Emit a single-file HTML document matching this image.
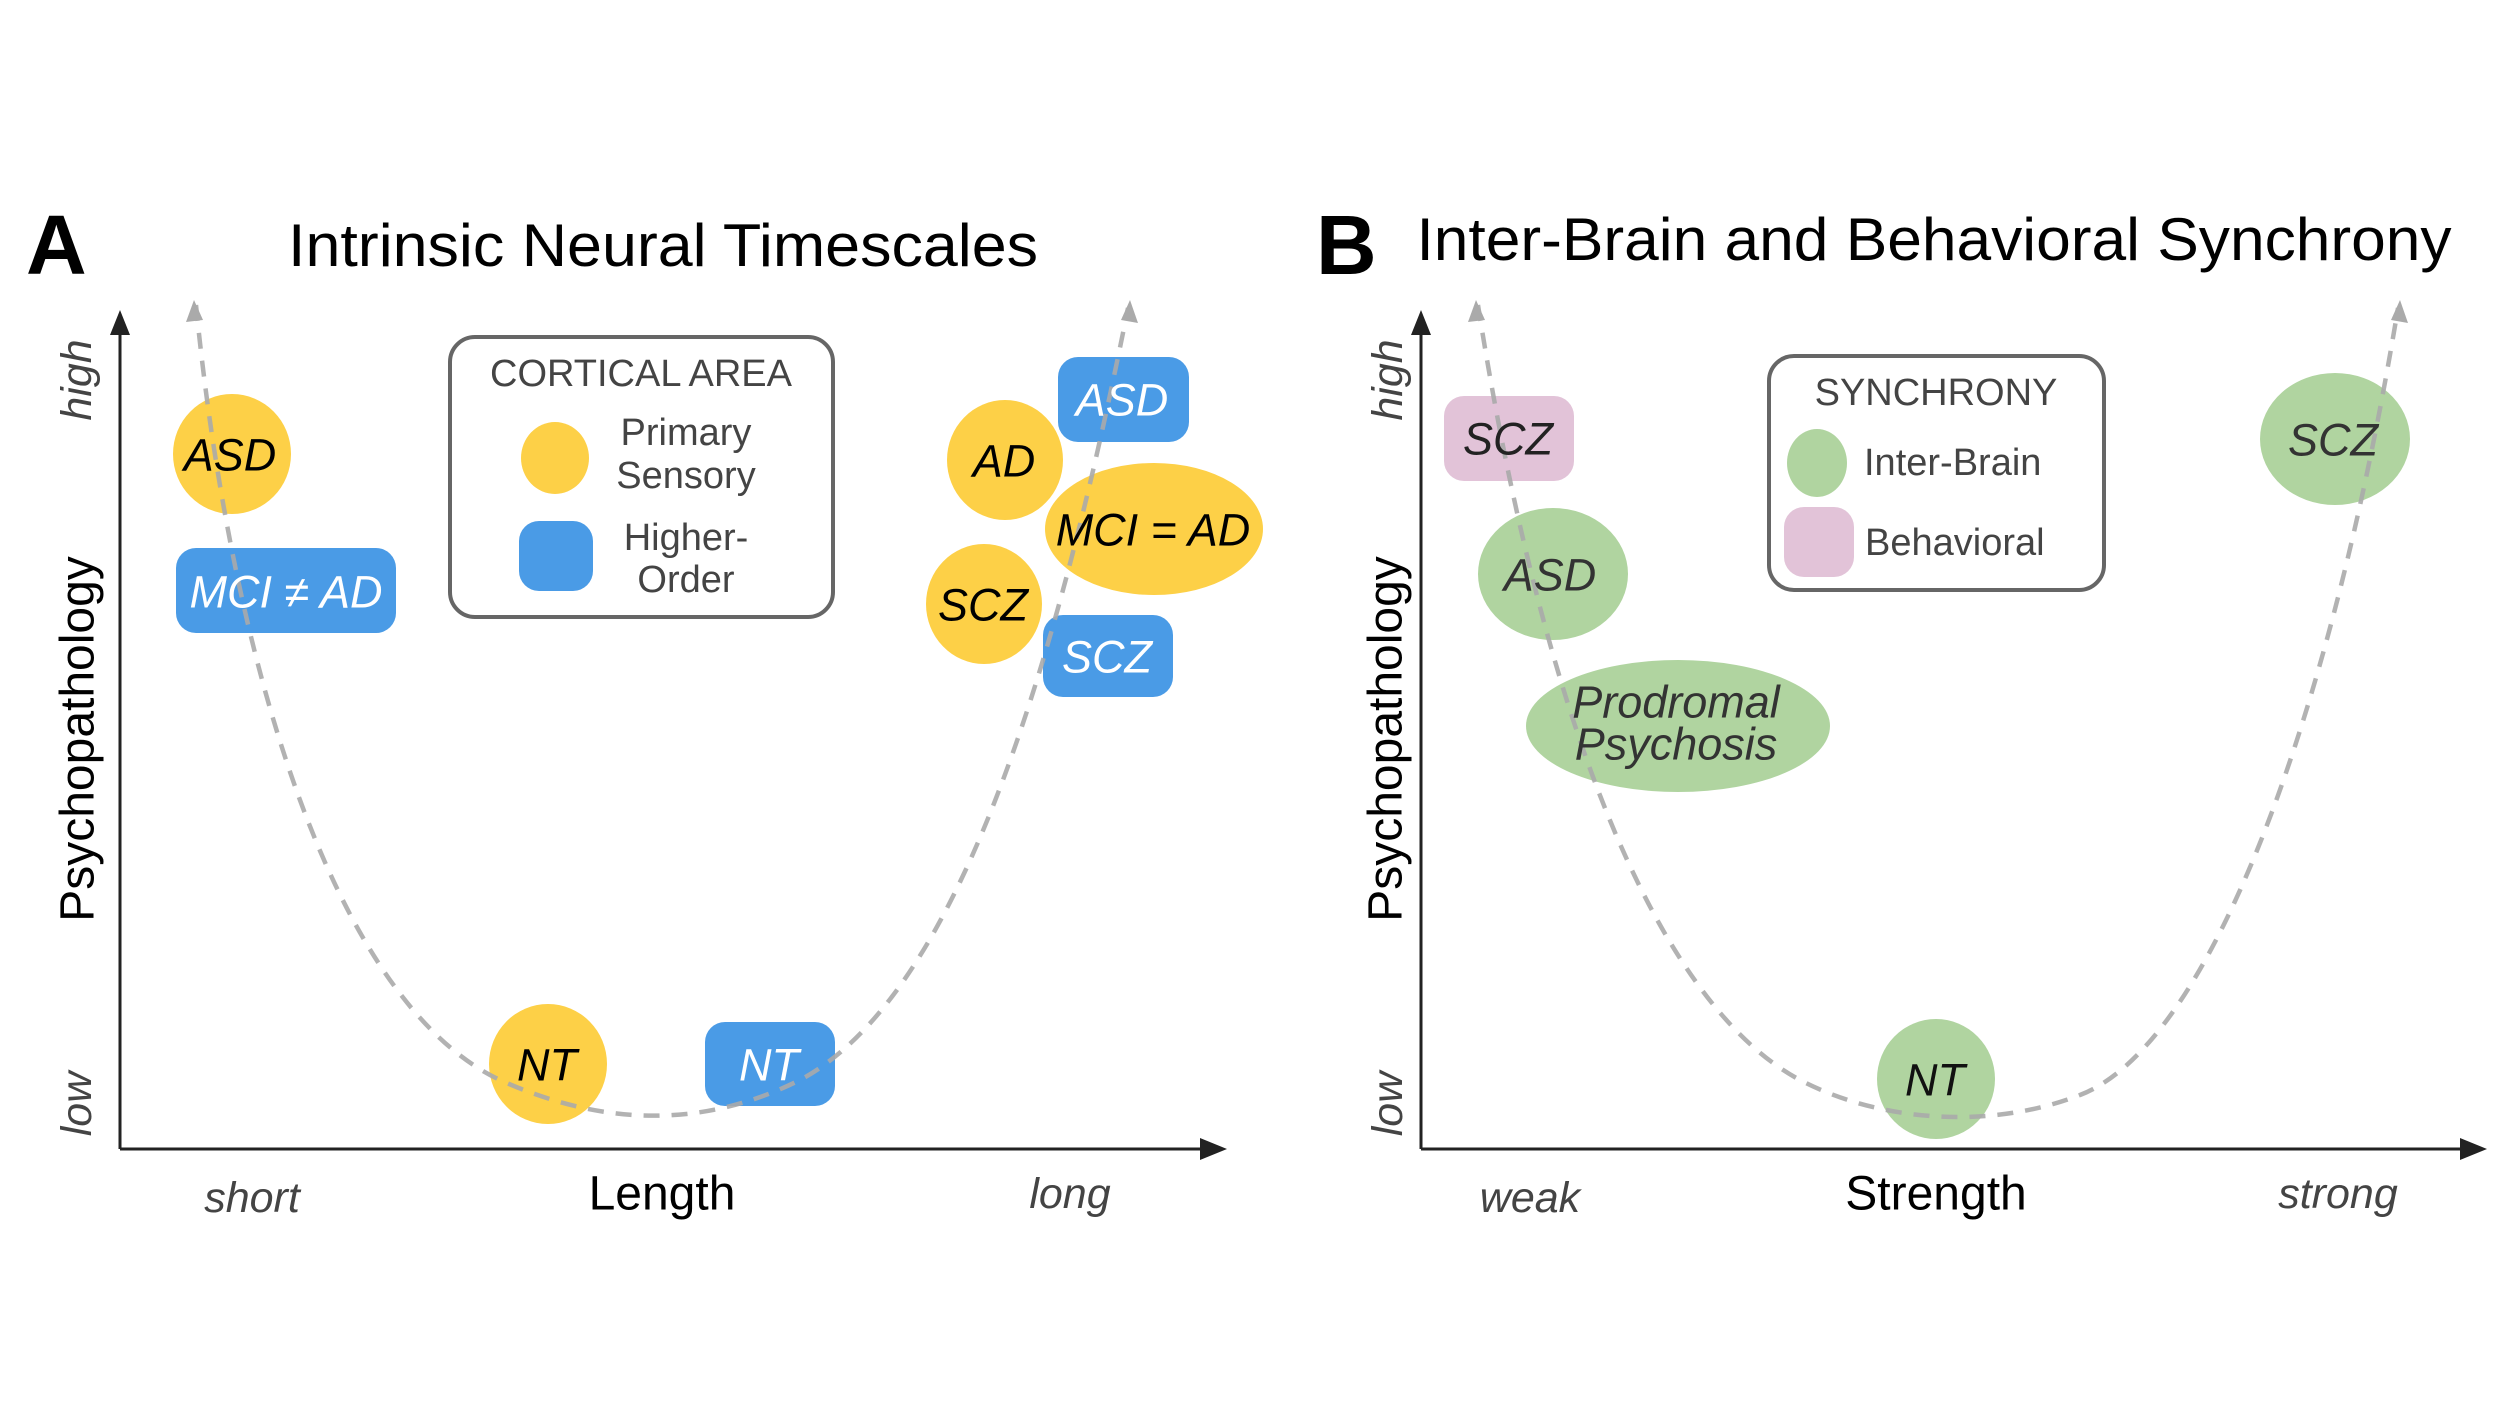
<!DOCTYPE html>
<html><head><meta charset="utf-8"><style>
html,body{margin:0;padding:0;background:#fff;}
svg{display:block;}
text{font-family:"Liberation Sans",sans-serif;}
.lbl{font-style:italic;font-size:45px;text-anchor:middle;dominant-baseline:central;}
.leg{font-size:38px;fill:#444;}
.ax{font-size:48px;text-anchor:middle;dominant-baseline:central;}
.tk{font-size:43px;font-style:italic;fill:#444;text-anchor:middle;dominant-baseline:central;}
</style></head><body>
<svg width="2500" height="1427" viewBox="0 0 2500 1427" xmlns="http://www.w3.org/2000/svg">
<rect width="2500" height="1427" fill="#fff"/>
<!-- Panel A -->
<text x="26" y="274" font-size="84" font-weight="bold">A</text>
<text x="663" y="266" font-size="60" text-anchor="middle" textLength="750" lengthAdjust="spacingAndGlyphs">Intrinsic Neural Timescales</text>
<line x1="120" y1="330" x2="120" y2="1149" stroke="#222" stroke-width="3"/>
<polygon points="120,310 110,335 130,335" fill="#222"/>
<line x1="120" y1="1149" x2="1205" y2="1149" stroke="#222" stroke-width="3"/>
<polygon points="1227,1149 1200,1138 1200,1160" fill="#222"/>
<text class="tk" transform="translate(77,380) rotate(-90)">high</text>
<text class="tk" transform="translate(77,1104) rotate(-90)">low</text>
<text class="ax" transform="translate(78,739) rotate(-90)">Psychopathology</text>
<text class="tk" x="252" y="1198">short</text>
<text class="ax" x="662" y="1194">Length</text>
<text class="tk" x="1070" y="1194">long</text>

<rect x="450" y="337" width="383" height="280" rx="25" fill="#fff" stroke="#666" stroke-width="4"/>
<text x="641" y="374" class="leg" text-anchor="middle" dominant-baseline="central">CORTICAL AREA</text>
<ellipse cx="555" cy="458" rx="34" ry="36" fill="#fdd047"/>
<text x="686" y="433" class="leg" text-anchor="middle" dominant-baseline="central">Primary</text>
<text x="686" y="476" class="leg" text-anchor="middle" dominant-baseline="central">Sensory</text>
<rect x="519" y="521" width="74" height="70" rx="20" fill="#4a9be6"/>
<text x="686" y="538" class="leg" text-anchor="middle" dominant-baseline="central">Higher-</text>
<text x="686" y="580" class="leg" text-anchor="middle" dominant-baseline="central">Order</text>

<ellipse cx="232" cy="454" rx="59" ry="60" fill="#fdd047"/>
<rect x="176" y="548" width="220" height="85" rx="20" fill="#4a9be6"/>
<ellipse cx="1005" cy="460" rx="58" ry="60" fill="#fdd047"/>
<rect x="1058" y="357" width="131" height="85" rx="20" fill="#4a9be6"/>
<ellipse cx="1154" cy="529" rx="109" ry="66" fill="#fdd047"/>
<ellipse cx="984" cy="604" rx="58" ry="60" fill="#fdd047"/>
<rect x="1043" y="615" width="130" height="82" rx="20" fill="#4a9be6"/>
<ellipse cx="548" cy="1064" rx="59" ry="60" fill="#fdd047"/>
<rect x="705" y="1022" width="130" height="84" rx="20" fill="#4a9be6"/>

<path d="M196,305 C230,650 330,1000 500,1080 C600,1125 700,1130 800,1080 C950,1000 1050,700 1128,308" fill="none" stroke="#aaa" stroke-width="4.5" stroke-dasharray="16,12" opacity="0.9"/>
<polygon points="194,300 186,322 203,320" fill="#aaa"/>
<polygon points="1130,300 1121,320 1138,323" fill="#aaa"/>

<text class="lbl" x="230" y="455">ASD</text>
<text class="lbl" x="286" y="592" fill="#fff">MCI ≠ AD</text>
<text class="lbl" x="1004" y="461">AD</text>
<text class="lbl" x="1122" y="400" fill="#fff">ASD</text>
<text class="lbl" x="1153" y="530">MCI = AD</text>
<text class="lbl" x="983" y="605">SCZ</text>
<text class="lbl" x="1107" y="657" fill="#fff">SCZ</text>
<text class="lbl" x="547" y="1065">NT</text>
<text class="lbl" x="769" y="1065" fill="#fff">NT</text>

<!-- Panel B -->
<text x="1316" y="274" font-size="84" font-weight="bold">B</text>
<text x="1934" y="260" font-size="60" text-anchor="middle" textLength="1035" lengthAdjust="spacingAndGlyphs">Inter-Brain and Behavioral Synchrony</text>
<line x1="1421" y1="330" x2="1421" y2="1149" stroke="#222" stroke-width="3"/>
<polygon points="1421,310 1411,335 1431,335" fill="#222"/>
<line x1="1421" y1="1149" x2="2465" y2="1149" stroke="#222" stroke-width="3"/>
<polygon points="2487,1149 2460,1138 2460,1160" fill="#222"/>
<text class="tk" transform="translate(1388,380) rotate(-90)">high</text>
<text class="tk" transform="translate(1388,1104) rotate(-90)">low</text>
<text class="ax" transform="translate(1386,739) rotate(-90)">Psychopathology</text>
<text class="tk" x="1530" y="1198">weak</text>
<text class="ax" x="1936" y="1194">Strength</text>
<text class="tk" x="2338" y="1194">strong</text>

<rect x="1769" y="356" width="335" height="234" rx="25" fill="#fff" stroke="#666" stroke-width="4"/>
<text x="1936" y="393" class="leg" text-anchor="middle" dominant-baseline="central">SYNCHRONY</text>
<ellipse cx="1817" cy="463" rx="30" ry="34" fill="#b0d4a0"/>
<text x="1864" y="463" class="leg" dominant-baseline="central">Inter-Brain</text>
<rect x="1784" y="507" width="70" height="70" rx="20" fill="#e2c3d8"/>
<text x="1865" y="543" class="leg" dominant-baseline="central">Behavioral</text>

<rect x="1444" y="396" width="130" height="85" rx="20" fill="#e2c3d8"/>
<ellipse cx="1553" cy="574" rx="75" ry="66" fill="#b0d4a0"/>
<ellipse cx="1678" cy="726" rx="152" ry="66" fill="#b0d4a0"/>
<ellipse cx="2335" cy="439" rx="75" ry="66" fill="#b0d4a0"/>
<ellipse cx="1936" cy="1079" rx="59" ry="60" fill="#b0d4a0"/>

<path d="M1478,305 C1540,700 1650,1000 1800,1080 C1880,1122 1990,1130 2080,1095 C2210,1045 2330,720 2398,308" fill="none" stroke="#aaa" stroke-width="4.5" stroke-dasharray="16,12" opacity="0.9"/>
<polygon points="1476,300 1468,322 1485,320" fill="#aaa"/>
<polygon points="2400,300 2391,320 2408,323" fill="#aaa"/>

<text class="lbl" x="1508" y="439" fill="#222">SCZ</text>
<text class="lbl" x="1550" y="575" fill="#333">ASD</text>
<text class="lbl" x="1676" y="702" fill="#333">Prodromal</text>
<text class="lbl" x="1676" y="744" fill="#333">Psychosis</text>
<text class="lbl" x="2333" y="440" fill="#333">SCZ</text>
<text class="lbl" x="1935" y="1080" fill="#111">NT</text>
</svg>
</body></html>
